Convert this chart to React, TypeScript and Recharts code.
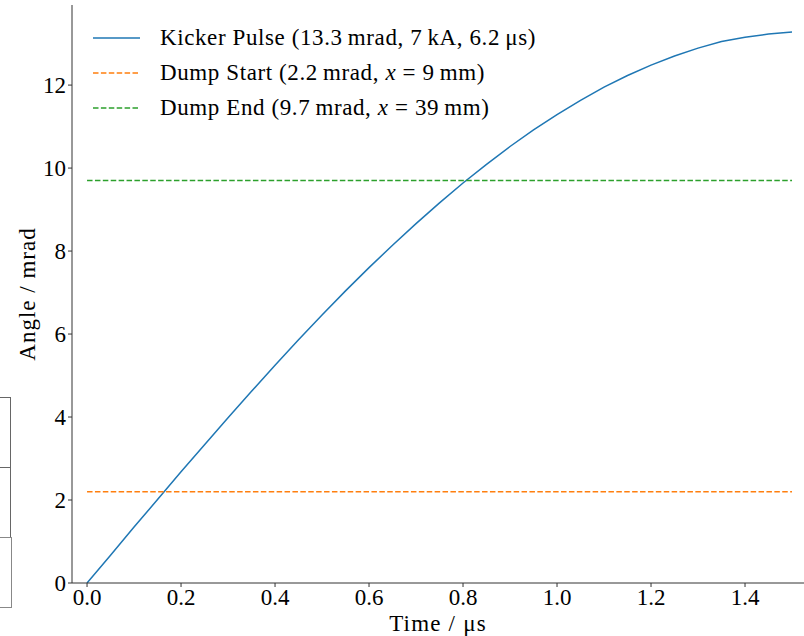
import React from 'react';
import { LineChart, Line, XAxis, YAxis, Legend } from 'recharts';

// kicker angle every 0.05 μs
const time = [
  0, 0.05, 0.1, 0.15, 0.2, 0.25, 0.3, 0.35, 0.4, 0.45, 0.5, 0.55, 0.6, 0.65, 0.7, 0.75,
  0.8, 0.85, 0.9, 0.95, 1.0, 1.05, 1.1, 1.15, 1.2, 1.25, 1.3, 1.35, 1.4, 1.45, 1.5,
];
const kickerAngle = [
  0, 0.67, 1.35, 2.01, 2.68, 3.33, 3.98, 4.62, 5.25, 5.86, 6.46, 7.04, 7.6, 8.14, 8.66, 9.16,
  9.64, 10.09, 10.52, 10.92, 11.29, 11.63, 11.95, 12.23, 12.48, 12.7, 12.89, 13.05, 13.15, 13.23, 13.28,
];
const dumpStartAngle = 2.2;
const dumpEndAngle = 9.7;

const xTicks = [0, 0.2, 0.4, 0.6, 0.8, 1.0, 1.2, 1.4];
const yTicks = [0, 2, 4, 6, 8, 10, 12];

const data = time.map((t, i) => ({
  time: t,
  kicker: kickerAngle[i],
  dumpStart: dumpStartAngle,
  dumpEnd: dumpEndAngle,
}));

const FONT = '"Liberation Serif", "DejaVu Serif", serif';
const AXIS = '#333';
const xDomain = [-0.032, 1.5255];
const yDomain = [0, 13.93];

const legendItems = [
  { key: 'kicker', color: '#1f77b4', dash: undefined, label: <>Kicker Pulse (13.3&thinsp;mrad, 7&thinsp;kA, 6.2&thinsp;μs)</> },
  { key: 'dumpStart', color: '#ff7f0e', dash: '5.5 2.4', label: <>Dump Start (2.2&thinsp;mrad, <i>x</i> = 9&thinsp;mm)</> },
  { key: 'dumpEnd', color: '#2ca02c', dash: '5.5 2.4', label: <>Dump End (9.7&thinsp;mrad, <i>x</i> = 39&thinsp;mm)</> },
];

const renderLegend = () => (
  <div style={{ fontFamily: FONT, fontSize: 23, letterSpacing: 0.6, color: '#000' }}>
    {legendItems.map((it) => (
      <div key={it.key} style={{ display: 'flex', alignItems: 'center', height: 35 }}>
        <svg width={47} height={10} style={{ marginRight: 20 }}>
          <line x1={0} y1={5} x2={47} y2={5} stroke={it.color} strokeWidth={1.5} strokeDasharray={it.dash} />
        </svg>
        <span style={{ whiteSpace: 'nowrap' }}>{it.label}</span>
      </div>
    ))}
  </div>
);

const LeftBoxes = () => (
  <>
    {[397, 467, 537].map((top, i) => (
      <div
        key={top}
        style={{
          position: 'absolute',
          left: -10,
          top,
          width: i === 2 ? 20 : 19,
          height: 69,
          border: `1.5px solid ${i === 2 ? '#888' : '#666'}`,
        }}
      />
    ))}
  </>
);

const tickStyle = { fill: '#000', fontSize: 23, fontFamily: FONT };

export default function App() {
  return (
    <div style={{ position: 'absolute', left: 0, top: 0, width: 804, height: 636, overflow: 'hidden', background: '#fff' }}>
      <LeftBoxes />
      <LineChart width={804} height={636} data={data} margin={{ top: 5, right: 0, bottom: 0, left: 0 }}>
        <XAxis
          dataKey="time"
          type="number"
          domain={xDomain}
          ticks={xTicks}
          allowDataOverflow
          tickFormatter={(v: number) => v.toFixed(1)}
          height={53}
          tickSize={4}
          stroke={AXIS}
          tick={tickStyle}
          label={{ value: 'Time / μs', position: 'center', dy: 13, fill: '#000', fontSize: 23, letterSpacing: 1.2, fontFamily: FONT }}
        />
        <XAxis
          xAxisId="top"
          orientation="top"
          dataKey="time"
          type="number"
          domain={xDomain}
          allowDataOverflow
          height={0}
          tick={false}
          tickLine={false}
          stroke={AXIS}
        />
        <YAxis
          type="number"
          domain={yDomain}
          ticks={yTicks}
          allowDataOverflow
          width={72}
          tickSize={4}
          stroke={AXIS}
          tick={tickStyle}
          label={{ value: 'Angle / mrad', angle: -90, position: 'center', dx: -9, fill: '#000', fontSize: 23, letterSpacing: 1, fontFamily: FONT }}
        />
        <Legend
          layout="vertical"
          align="center"
          verticalAlign="middle"
          content={renderLegend}
          wrapperStyle={{ left: 93, top: 20, width: 'auto' }}
        />
        <Line dataKey="kicker" stroke="#1f77b4" strokeWidth={1.5} dot={false} isAnimationActive={false} />
        <Line dataKey="dumpStart" stroke="#ff7f0e" strokeWidth={1.5} strokeDasharray="5.5 2.4" dot={false} isAnimationActive={false} />
        <Line dataKey="dumpEnd" stroke="#2ca02c" strokeWidth={1.5} strokeDasharray="5.5 2.4" dot={false} isAnimationActive={false} />
      </LineChart>
    </div>
  );
}
